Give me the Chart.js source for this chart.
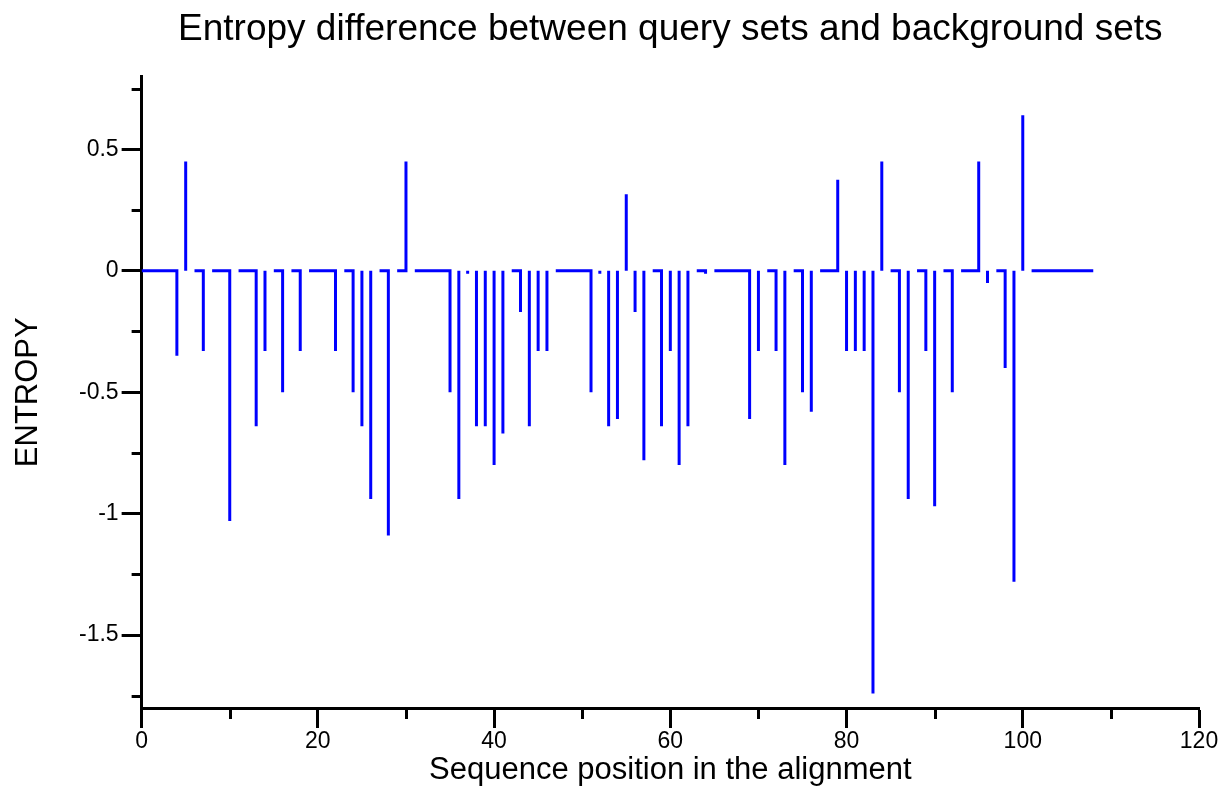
<!DOCTYPE html>
<html>
<head>
<meta charset="utf-8">
<title>Entropy difference</title>
<script src="https://cdn.jsdelivr.net/npm/chart.js@4.4.1/dist/chart.umd.min.js"></script>
<style>
  html, body { margin: 0; padding: 0; background: #fff; }
  #c { display: block; }
</style>
</head>
<body>
<canvas id="c" width="1223" height="788"></canvas>
<script>
  // alignment positions 0..seqEnd, only the non-zero entropy differences are listed
  const seqEnd = 108;
  const spikePos = [4, 5, 7, 10, 13, 14, 16, 18, 22, 24, 25, 26, 28, 30, 35, 36, 37, 38, 39, 40,
    41, 43, 44, 45, 46, 51, 52, 53, 54, 55, 56, 57, 59, 60, 61, 62, 64, 69, 70, 72,
    73, 75, 76, 79, 80, 81, 82, 83, 84, 86, 87, 89, 90, 92, 95, 96, 98, 99, 100];
  const spikeVal = [-0.35, 0.45, -0.33, -1.03, -0.64, -0.33, -0.5, -0.33, -0.33, -0.5, -0.64, -0.94, -1.09, 0.45, -0.5, -0.94, -0.012, -0.64, -0.64, -0.8,
    -0.67, -0.17, -0.64, -0.33, -0.33, -0.5, -0.012, -0.64, -0.61, 0.315, -0.17, -0.78, -0.64, -0.33, -0.8, -0.64, -0.012, -0.61, -0.33, -0.33,
    -0.8, -0.5, -0.58, 0.375, -0.33, -0.33, -0.33, -1.74, 0.45, -0.5, -0.94, -0.33, -0.97, -0.5, 0.45, -0.05, -0.4, -1.28, 0.64];

  const xMajor = [0, 20, 40, 60, 80, 100, 120];
  const xMinor = [10, 30, 50, 70, 90, 110];
  const yMajor = [-1.5, -1, -0.5, 0, 0.5];
  const yMinor = [-1.75, -1.25, -0.75, -0.25, 0.25, 0.75];

  const FONT = "'Liberation Sans', Arial, Helvetica, sans-serif";

  const val = (i) => {
    const k = spikePos.indexOf(i);
    return k < 0 ? 0 : spikeVal[k];
  };

  // baseline piece (i-1 -> i) only after a zero entry, then a stem at i
  const pts = [{ x: 0, y: 0 }];
  for (let i = 1; i <= seqEnd; i++) {
    if (val(i - 1) !== 0) {
      pts.push({ x: i, y: null });
      pts.push({ x: i, y: 0 });
    } else {
      pts.push({ x: i, y: 0 });
    }
    if (val(i) !== 0) pts.push({ x: i, y: val(i) });
  }

  const minorTicks = {
    id: "minorTicks",
    afterDraw(chart) {
      const { ctx, scales } = chart;
      const x = scales.x, y = scales.y;
      ctx.save();
      ctx.strokeStyle = "#000";
      ctx.lineWidth = 3;
      ctx.beginPath();
      xMinor.forEach((v) => {
        const px = Math.round(x.getPixelForValue(v)) + 0.5;
        ctx.moveTo(px, x.top);
        ctx.lineTo(px, x.top + 11);
      });
      yMinor.forEach((v) => {
        const py = Math.round(y.getPixelForValue(v)) + 0.5;
        ctx.moveTo(y.right, py);
        ctx.lineTo(y.right - 10, py);
      });
      ctx.stroke();
      ctx.restore();
    },
  };

  Chart.defaults.font.family = FONT;
  Chart.defaults.color = "#000";

  new Chart(document.getElementById("c"), {
    type: "line",
    data: {
      datasets: [
        {
          data: pts,
          borderColor: "#0000ff",
          borderWidth: 3,
          pointRadius: 0,
          tension: 0,
          spanGaps: false,
          borderCapStyle: "butt",
          borderJoinStyle: "miter",
        },
      ],
    },
    options: {
      responsive: false,
      animation: false,
      devicePixelRatio: 1,
      layout: { padding: { left: 8, right: 24, top: 0, bottom: 2 } },
      plugins: {
        legend: { display: false },
        tooltip: { enabled: false },
        title: {
          display: true,
          text: "Entropy difference between query sets and background sets",
          color: "#000",
          fullSize: false,
          font: { size: 37, weight: "normal", lineHeight: 1.2 },
          padding: { top: 8, bottom: 24 },
        },
      },
      scales: {
        x: {
          type: "linear",
          min: 0,
          max: 120,
          afterBuildTicks: (s) => { s.ticks = xMajor.map((v) => ({ value: v })); },
          border: { color: "#000", width: 3 },
          grid: { drawOnChartArea: false, tickLength: 20, tickColor: "#000", tickWidth: 3 },
          ticks: {
            color: "#000",
            font: { size: 23, lineHeight: 1 },
            padding: 2,
            maxRotation: 0,
            autoSkip: false,
            callback: (v) => String(v),
          },
          title: {
            display: true,
            text: "Sequence position in the alignment",
            color: "#000",
            font: { size: 31, lineHeight: 1 },
            padding: { top: 0, bottom: 0 },
          },
        },
        y: {
          type: "linear",
          min: -1.8,
          max: 0.8,
          afterBuildTicks: (s) => { s.ticks = yMajor.map((v) => ({ value: v })); },
          border: { color: "#000", width: 3 },
          grid: { drawOnChartArea: false, tickLength: 20, tickColor: "#000", tickWidth: 3 },
          ticks: {
            color: "#000",
            font: { size: 23, lineHeight: 1 },
            padding: 3,
            autoSkip: false,
            callback: (v) => String(v),
          },
          title: {
            display: true,
            text: "ENTROPY",
            color: "#000",
            font: { size: 31, lineHeight: 1 },
            padding: { top: 5, bottom: 32 },
          },
        },
      },
    },
    plugins: [minorTicks],
  });
</script>
</body>
</html>
